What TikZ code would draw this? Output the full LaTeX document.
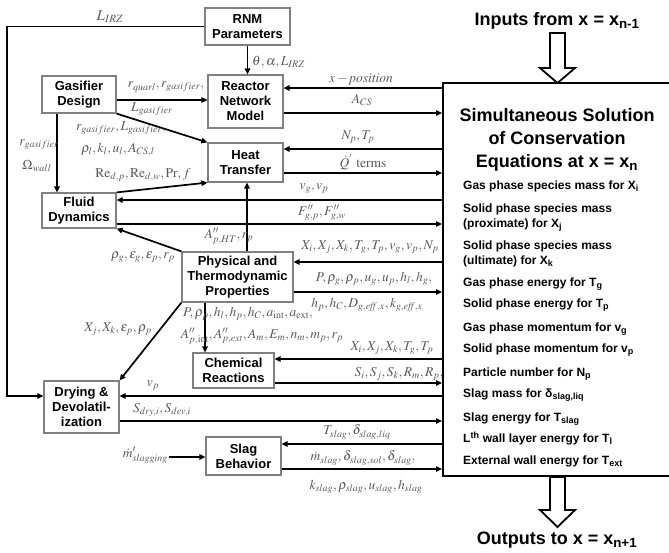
\documentclass[tikz,border=0pt]{standalone}
\usepackage{mathptmx}
\usepackage[no-math]{fontspec}
\setmainfont{Liberation Sans}
\usetikzlibrary{arrows.meta}
\definecolor{labgray}{gray}{0.35}
\tikzset{
  box/.style={draw=black!50, line width=1.2pt, fill=white, font=\fontsize{13}{15}\selectfont\bfseries, align=center, inner sep=1pt},
  arr/.style={line width=1.7pt, -{Triangle[length=6pt,width=5.5pt]}},
  lab/.style={text=labgray, font=\fontsize{13.5}{15}\selectfont, inner sep=0pt},
  eqitem/.style={font=\fontsize{12}{14}\selectfont\bfseries, anchor=base west, inner sep=0pt},
  hollow/.style={draw, line width=1.8pt, fill=white, line join=miter}
}
\begin{document}
\begin{tikzpicture}[x=1pt,y=-1pt]
\useasboundingbox (0,0) rectangle (669,552);
% boxes
\node[draw, line width=2pt, minimum width=229pt, minimum height=393pt, inner sep=0pt] (big) at (557.5,279.5) {};
\node[box, minimum width=85pt, minimum height=37pt] (rnm) at (247.5,26.5) {RNM\\Parameters};
\node[box, minimum width=75pt, minimum height=53pt] (rnmod) at (245.5,101.5) {Reactor\\Network\\Model};
\node[box, minimum width=75pt, minimum height=39pt] (heat) at (245.5,162.5) {Heat\\Transfer};
\node[box, minimum width=74pt, minimum height=37pt] (gas) at (79,94.5) {Gasifier\\Design};
\node[box, minimum width=74pt, minimum height=35pt] (fluid) at (79,210.5) {Fluid\\Dynamics};
\node[box, minimum width=111pt, minimum height=50pt] (phys) at (237.5,277) {Physical and\\Thermodynamic\\Properties};
\node[box, minimum width=81pt, minimum height=35pt] (chem) at (233.5,370.5) {Chemical\\Reactions};
\node[box, minimum width=75pt, minimum height=52pt] (dry) at (81.5,407) {Drying \&\\Devolatil-\\ization};
\node[box, minimum width=75pt, minimum height=38pt] (slag) at (243.5,456) {Slag\\Behavior};
% big box text
\node[font=\fontsize{18}{23}\selectfont\bfseries, align=center, inner sep=0pt] (title) at (557,140) {Simultaneous Solution\\of Conservation\\Equations at x = x\textsubscript{n}};
\node[eqitem] (e1) at (463,189.5) {Gas phase species mass for X\textsubscript{i}};
\node[eqitem] (e2a) at (463,212.5) {Solid phase species mass};
\node[eqitem] (e2b) at (463,227.5) {(proximate) for X\textsubscript{j}};
\node[eqitem] (e3a) at (463,249.5) {Solid phase species mass};
\node[eqitem] (e3b) at (463,264.5) {(ultimate) for X\textsubscript{k}};
\node[eqitem] (e4) at (463,286.5) {Gas phase energy for T\textsubscript{g}};
\node[eqitem] (e5) at (463,307.5) {Solid phase energy for T\textsubscript{p}};
\node[eqitem] (e6) at (463,331.5) {Gas phase momentum for v\textsubscript{g}};
\node[eqitem] (e7) at (463,352.5) {Solid phase momentum for v\textsubscript{p}};
\node[eqitem] (e8) at (463,376.5) {Particle number for N\textsubscript{p}};
\node[eqitem] (e9) at (463,397.5) {Slag mass for δ\textsubscript{slag,liq}};
\node[eqitem] (e10) at (463,421.5) {Slag energy for T\textsubscript{slag}};
\node[eqitem] (e11) at (463,442.5) {L\textsuperscript{th} wall layer energy for T\textsubscript{l}};
\node[eqitem] (e12) at (463,464.5) {External wall energy for T\textsubscript{ext}};
% hollow arrows
\draw[hollow] (550,33) -- (565,33) -- (565,68) -- (575,68) -- (557.5,83) -- (540,68) -- (550,68) -- cycle;
\draw[hollow] (550,477) -- (565,477) -- (565,510) -- (575,510) -- (557.5,527) -- (540,510) -- (550,510) -- cycle;
\node[font=\fontsize{18}{22}\selectfont\bfseries, inner sep=0pt] (inp) at (557,21) {Inputs from x = x\textsubscript{n-1}};
\node[font=\fontsize{18}{22}\selectfont\bfseries, inner sep=0pt] (outp) at (557,540) {Outputs to x = x\textsubscript{n+1}};
% connectors
\draw[arr] (rnm.west) -- (7,26.5) -- (7,396) -- (dry.west |- 0,396);
\draw[arr] (rnm.south) -- (rnm.south |- rnmod.north);
\draw[arr] (big.west |- 0,88) -- (rnmod.east |- 0,88);
\draw[arr] (rnmod.east |- 0,113) -- (big.west |- 0,113);
\draw[arr] (gas.east |- 0,100) -- (rnmod.west |- 0,100);
\draw[arr] (gas.south east) -- (heat.north west);
\draw[arr] (gas.south -| 57,0) -- (fluid.north -| 57,0);
\draw[arr] (fluid.north east) -- (heat.south west);
\draw[arr] (big.west |- 0,149) -- (heat.east |- 0,149);
\draw[arr] (heat.east |- 0,173) -- (big.west |- 0,173);
\draw[arr] (big.west |- 0,200) -- (fluid.east |- 0,200);
\draw[arr] (fluid.east |- 0,224) -- (big.west |- 0,224);
\draw[arr] (phys.north -| 247,0) -- (heat.south -| 247,0);
\draw[arr] (phys.north west) -- (fluid.south east);
\draw[arr] (big.west |- 0,262) -- (phys.east |- 0,262);
\draw[arr] (phys.east |- 0,292) -- (big.west |- 0,292);
\draw[arr] (phys.south -| 205,0) -- (chem.north -| 205,0);
\draw[arr] (phys.south west) -- (dry.north east);
\draw[arr] (big.west |- 0,359) -- (chem.east |- 0,359);
\draw[arr] (chem.east |- 0,383) -- (big.west |- 0,383);
\draw[arr] (big.west |- 0,396) -- (dry.east |- 0,396);
\draw[arr] (dry.east |- 0,421) -- (big.west |- 0,421);
\draw[arr] (big.west |- 0,444) -- (slag.east |- 0,444);
\draw[arr] (slag.east |- 0,469) -- (big.west |- 0,469);
\coordinate (ms) at (169,457);
\draw[arr] (ms) -- (slag.west |- ms);
% labels
\node[lab, font=\fontsize{15}{17}\selectfont] (l1) at (110,17) {$L_{IRZ}$};
\node[lab, anchor=west] (l2) at (252,62) {$\theta, \alpha, L_{IRZ}$};
\node[lab] (l3) at (361,79) {$x-\mathit{position}$};
\node[lab] (l4) at (362,100) {$A_{CS}$};
\node[lab] (l5) at (166,87) {$r_{quarl}, r_{gasifier},$};
\node[lab] (l6) at (152,109) {$L_{gasifier}$};
\node[lab] (l7) at (121,128) {$r_{gasifier}, L_{gasifier},$};
\node[lab] (l8) at (118,150) {$\rho_l, k_l, u_l, A_{CS,l}$};
\node[lab] (l9) at (39,145) {$r_{gasifier}$};
\node[lab] (l10) at (37,166) {$\Omega_{wall}$};
\node[lab] (l11) at (143,175) {$\mathrm{Re}_{d,p}, \mathrm{Re}_{d,w}, \mathrm{Pr}, f$};
\node[lab] (l12) at (358,137) {$N_p, T_p$};
\node[lab] (l13) at (363,162) {$\dot{Q}^{'}\ \mathrm{terms}$};
\node[lab] (l14) at (314,189) {$v_g, v_p$};
\node[lab] (l15) at (322,213) {$F''_{g,p}, F''_{g,w}$};
\node[lab] (l16) at (229,236) {$A''_{p,HT}, r_p$};
\node[lab] (l17) at (143,257) {$\rho_g, \varepsilon_g, \varepsilon_p, r_p$};
\node[lab] (l18) at (370,247) {$X_i, X_j, X_k, T_g, T_p, v_g, v_p, N_p$};
\node[lab] (l19) at (374,279) {$P, \rho_g, \rho_p, u_g, u_p, h_l, h_g,$};
\node[lab] (l20) at (367,305) {$h_p, h_C, D_{g,\mathit{eff},x}, k_{g,\mathit{eff},x}$};
\node[lab] (l21) at (248,314) {$P, \rho_p, h_l, h_p, h_C, a_{\mathrm{int}}, a_{\mathrm{ext}},$};
\node[lab] (l22) at (262,336) {$A''_{p,\mathrm{int}}, A''_{p,\mathit{ext}}, A_m, E_m, n_m, m_p, r_p$};
\node[lab] (l23) at (118,329) {$X_j, X_k, \varepsilon_p, \rho_p$};
\node[lab] (l24) at (392,348) {$X_i, X_j, X_k, T_g, T_p$};
\node[lab] (l25) at (399,374) {$S_i, S_j, S_k, R_m, R_p,$};
\node[lab] (l26) at (153,386) {$v_p$};
\node[lab] (l27) at (162,410) {$S_{dry,i}, S_{dev,i}$};
\node[lab, anchor=east] (l28) at (168,455) {$\dot{m}'_{slagging}$};
\node[lab] (l29) at (357,432) {$T_{slag}, \delta_{slag,liq}$};
\node[lab] (l30) at (363,458) {$\dot{m}_{slag}, \delta_{slag,sol}, \delta_{slag},$};
\node[lab] (l31) at (366,487) {$k_{slag}, \rho_{slag}, u_{slag}, h_{slag}$};
\end{tikzpicture}
\end{document}
